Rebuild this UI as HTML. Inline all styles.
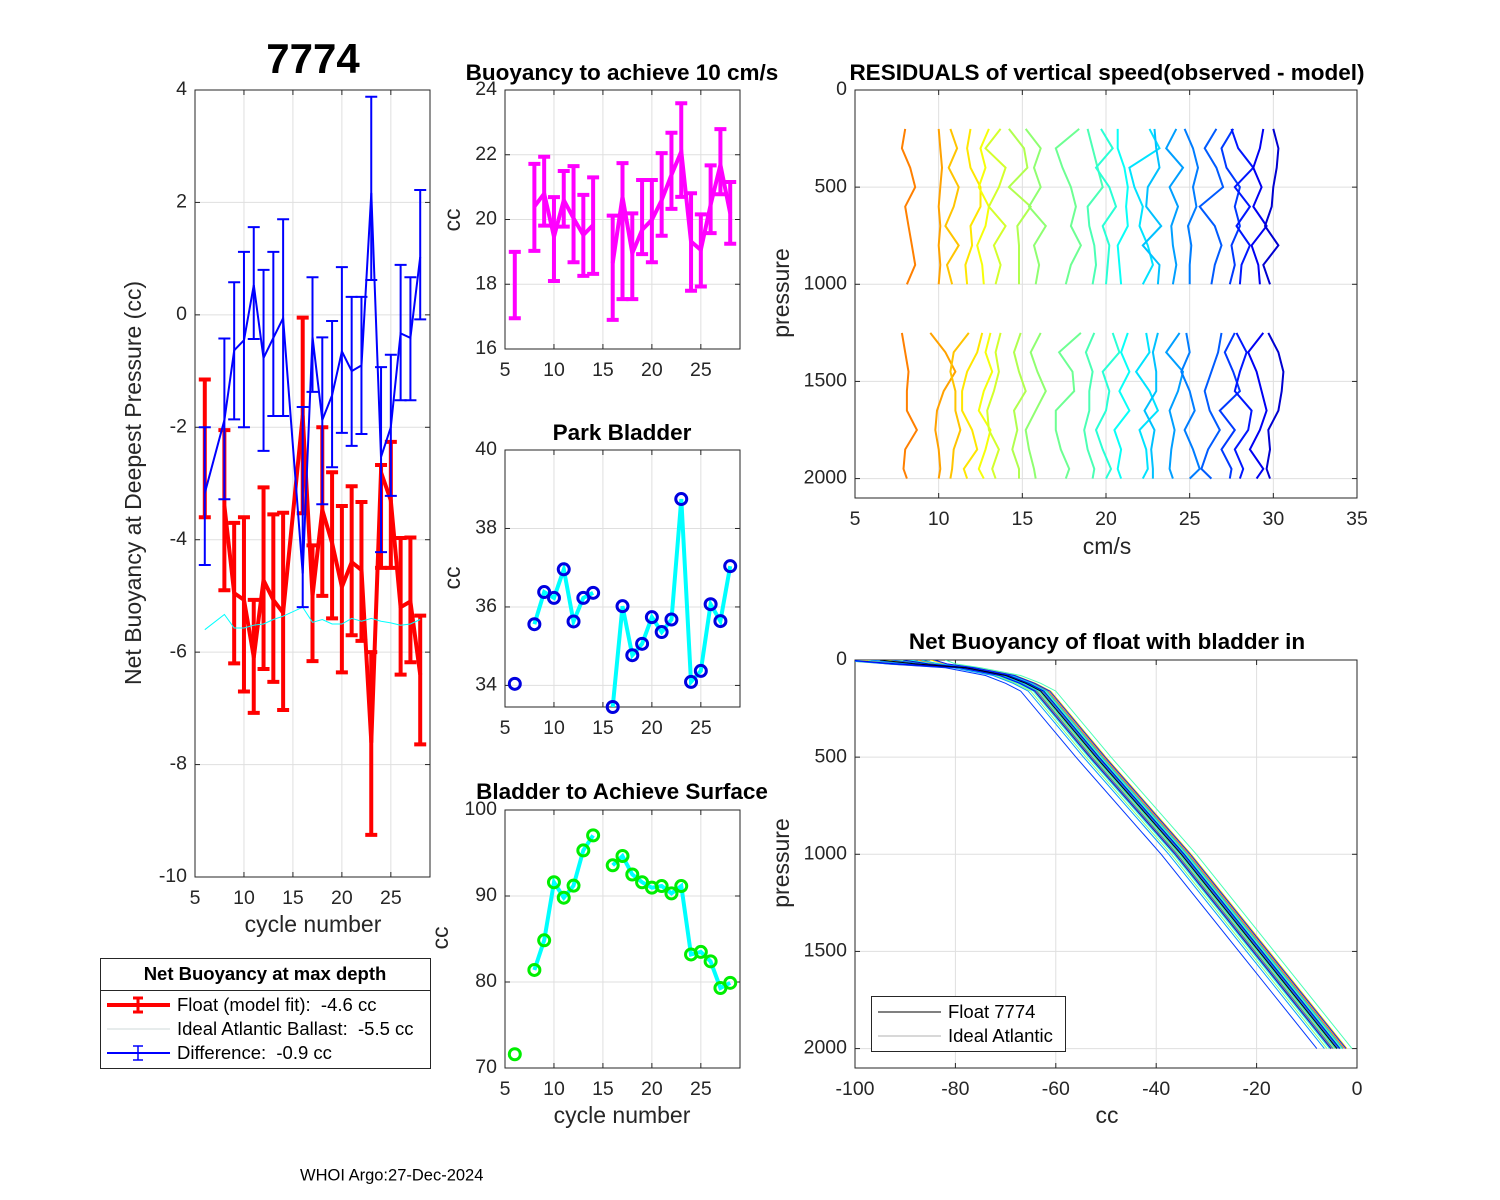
<!DOCTYPE html>
<html><head><meta charset="utf-8"><title>7774</title>
<style>
html,body{margin:0;padding:0;background:#fff;}
svg{display:block;font-family:"Liberation Sans",Arial,sans-serif;}
text{white-space:pre;}
</style></head>
<body>
<svg id="fig" width="1500" height="1200" viewBox="0 0 1500 1200" xmlns="http://www.w3.org/2000/svg"></svg>
<script>
// ---------- data ----------
const cycles = [6,8,9,10,11,12,13,14,16,17,18,19,20,21,22,23,24,25,26,27,28];
const floatVal = [-2.4,-3.4,-4.95,-5.07,-6.09,-4.72,-5.07,-5.3,-1.8,-5.0,-3.47,-4.06,-4.84,-4.4,-4.54,-7.6,-2.8,-3.3,-5.2,-5.1,-6.4];
const floatHi  = [-1.15,-2.05,-3.7,-3.6,-5.07,-3.07,-3.55,-3.52,-0.05,-4.1,-2.0,-2.8,-3.4,-3.05,-3.33,-6.0,-2.67,-2.26,-3.97,-3.96,-5.35];
const floatLo  = [-3.6,-4.9,-6.2,-6.7,-7.08,-6.3,-6.53,-7.03,-3.53,-6.16,-5.0,-5.4,-6.36,-5.7,-5.8,-9.25,-4.5,-4.5,-6.4,-6.18,-7.64];
const idealVal = [-5.6,-5.33,-5.57,-5.57,-5.52,-5.5,-5.42,-5.36,-5.2,-5.47,-5.42,-5.5,-5.5,-5.4,-5.45,-5.4,-5.45,-5.48,-5.52,-5.5,-5.42];
const diffVal = [-3.17,-1.87,-0.63,-0.45,0.53,-0.77,-0.41,-0.06,-4.6,-0.39,-1.87,-1.43,-0.65,-1.0,-0.9,2.17,-2.53,-2.0,-0.33,-0.41,1.03];
const diffHi  = [-2.0,-0.42,0.58,1.12,1.56,0.8,1.12,1.7,-1.64,0.67,-0.4,-0.11,0.85,0.32,0.32,3.88,-0.93,-0.71,0.89,0.67,2.22];
const diffLo  = [-4.45,-3.28,-1.86,-2.0,-0.43,-2.42,-1.8,-1.8,-5.2,-1.37,-3.37,-2.71,-2.1,-2.33,-2.12,0.62,-4.22,-3.22,-1.52,-1.52,-0.08];
const buoyVal = [17.98,20.4,20.8,19.47,20.6,20.04,19.52,19.83,18.65,20.7,18.96,19.68,19.99,20.6,21.38,22.1,19.32,19.06,20.45,21.69,20.19];
const buoyHi  = [19.0,21.72,21.94,20.69,21.5,21.65,20.76,21.3,20.12,21.74,20.19,21.22,21.22,22.05,22.68,23.59,20.81,20.16,21.67,22.79,21.16];
const buoyLo  = [16.95,19.03,19.81,18.1,19.78,18.68,18.26,18.32,16.9,17.54,17.54,18.93,18.68,19.5,20.33,20.7,17.8,17.93,19.58,20.78,19.25];
const parkVal = [34.04,35.56,36.38,36.23,36.96,35.63,36.23,36.36,33.45,36.02,34.77,35.06,35.74,35.36,35.68,38.75,34.09,34.37,36.07,35.64,37.04];
const surfVal = [71.6,81.4,84.85,91.6,89.8,91.2,95.3,97.05,93.57,94.65,92.5,91.6,90.97,91.16,90.3,91.16,83.2,83.5,82.4,79.3,79.9];
const resPresTop = [200,300,400,500,600,700,800,900,1000];
const resPresBot = [1250,1350,1450,1550,1650,1750,1850,1950,2000];
const resOffset = [8.1,10,10.9,11.7,12.7,13.4,14.8,15.8,17.6,19.2,20,20.9,22.2,22.8,24,25,26.3,27.4,28,29,29.8];
const resTop = [
[-0.1,-0.3,0.2,0.5,-0.1,0.1,0.3,0.5,0.0],
[0,0.1,0.2,0.1,0,0.1,0,0.1,0],
[-0.2,0.2,-0.3,0.3,0,-0.5,0.3,-0.4,-0.1],
[0.2,0,0.2,0.8,0.8,0.2,0.3,-0.1,0],
[0.3,-0.2,0.1,-0.3,0.3,0.1,-0.4,-0.1,0],
[0.3,-0.6,0.6,0.2,-0.4,0.6,-0.1,0.3,0],
[-0.6,0.3,0.5,-0.6,0.7,-0.1,0,0,0],
[-0.6,0.3,-0.1,0.3,-0.4,0.6,-0.1,0.2,0],
[0.8,-0.6,-0.2,0.3,0.6,0.3,0.9,0.3,0],
[-0.3,0,0.3,0.6,-0.3,-0.2,0.1,0.2,0],
[-0.3,0.4,-0.6,0.2,0.6,-0.2,0.2,0.1,0],
[-0.2,-0.2,0.2,0.4,0.3,0.4,-0.2,-0.1,0],
[0.4,1.0,-0.8,-0.5,0,-0.2,0.3,0.6,0],
[0.1,0.2,0.4,-0.3,-0.4,0.5,-0.6,0.4,0.3],
[0.2,-0.4,0.6,-0.2,0.3,-0.1,0,0.2,0],
[-0.3,0.2,0.5,0.2,0.4,-0.1,0.1,0,0],
[0.3,-0.4,0.3,0.7,-0.7,0.2,0.6,0.2,0],
[0.2,-0.5,-0.2,0.6,0.3,0.6,0.1,0.3,0],
[-0.5,-0.1,0.8,-0.3,0.6,-0.2,0.6,0.1,0],
[0.4,0.2,-0.2,0.3,-0.2,0.6,-0.3,0.1,0.2],
[0.2,0.5,0.4,0.2,0.1,-0.3,0.5,-0.4,0]];
const resBot = [
[-0.3,-0.1,0.1,0.0,0.0,0.6,-0.1,-0.2,0.0],
[-0.5,0.4,1.0,0.3,-0.1,-0.2,0.0,0.1,0.0],
[0.9,0.0,-0.2,0.1,0.1,0.4,0.0,-0.1,-0.2],
[0.9,0.6,0.0,-0.3,-0.3,0.3,0.6,-0.2,0.0],
[0.4,0.1,0.5,0.0,-0.3,0.4,0.1,-0.3,0.0],
[0.3,0.0,0.2,-0.1,-0.5,-0.4,0.2,-0.2,0.0],
[0.1,-0.3,0.0,0.4,-0.3,-0.1,-0.4,0.0,0.0],
[0.3,-0.3,0.1,0.6,0.0,-0.6,-0.4,-0.1,0.0],
[0.9,-0.4,0.4,0.5,-0.6,-0.6,-0.3,0.2,0.0],
[0.1,-0.4,0.0,-0.2,-0.2,-0.5,-0.3,0.1,0.0],
[0.4,0.8,-0.2,0.2,0.0,-0.6,-0.2,0.3,0.0],
[0.4,0.0,0.5,-0.1,0.5,-0.4,0.0,-0.2,0.0],
[0.2,0.4,-0.4,0.4,0.9,-0.2,0.2,0.3,0.0],
[0.3,0.0,0.2,0.2,-0.5,0.1,-0.1,0.0,0.0],
[0.4,-0.4,0.6,0.3,-0.2,0.1,-0.1,-0.2,0.0],
[-0.2,0.0,-0.5,0.0,0.3,-0.3,0.2,0.6,0.0],
[0.6,0.4,0.0,-0.4,-0.1,0.5,-0.2,-0.6,0.0],
[0.3,-0.3,0.2,0.6,-0.6,0.3,-0.5,0.1,0.0],
[-0.2,0.4,0.0,-0.3,0.7,0.5,-0.3,0.2,0.0],
[0.4,-0.5,0.0,0.3,0.6,0.2,-0.4,0.4,0.0],
[-0.1,0.5,0.8,0.7,0.5,-0.1,0.0,-0.2,0.0]];
const profPres = [0,20,40,80,120,160,500,1000,1500,2000];
const profCC   = [-95,-88,-78,-70,-66,-63,-52,-35,-19.5,-4];
const profShift = [1.5,-1,0.5,2,-0.5,0,1,-2,0.5,3,-1.5,0.8,-0.3,1.2,-2.5,-0.8,0.3,-4,1.8,-1.2,0.6];
const topSpread = [6,-3,2,8,-5,1,4,-7,3,10,-4,5,-2,7,-6,-1,2,-3,9,-5,4];
const idealShift = [-1.2,-0.6,0,0.6,1.2];
const xTicks5 = [5,10,15,20,25];

// ---------- helpers ----------
const NS = "http://www.w3.org/2000/svg";
const svg = document.getElementById('fig');
const TICK=19.5, LAB=23, TTL=22.5;
function el(tag, attrs, parent){ const e=document.createElementNS(NS,tag); for(const k in attrs) e.setAttribute(k,attrs[k]); (parent||svg).appendChild(e); return e; }
function txt(x,y,s,size,opts,parent){ opts=opts||{}; const t=el('text',{x:x,y:y,'font-size':size,fill:opts.fill||'#262626','text-anchor':opts.anchor||'middle','font-weight':opts.bold?'bold':'normal','dominant-baseline':opts.base||'middle'},parent); if(opts.rot) t.setAttribute('transform','rotate(-90 '+x+' '+y+')'); t.textContent=s; return t; }
function lin(d0,d1,p0,p1){ return v=>p0+(v-d0)*(p1-p0)/(d1-d0); }
function jet(t){ const r=Math.min(1,Math.max(0,1.5-Math.abs(4*t-3))); const g=Math.min(1,Math.max(0,1.5-Math.abs(4*t-2))); const b=Math.min(1,Math.max(0,1.5-Math.abs(4*t-1))); return 'rgb('+Math.round(r*255)+','+Math.round(g*255)+','+Math.round(b*255)+')'; }

function axes(name,x0,y0,x1,y1,xl,yl,xt,yt,rev){
  const g=el('g',{});
  
  
  const sx=lin(xl[0],xl[1],x0,x1);
  const sy=rev?lin(yl[0],yl[1],y0,y1):lin(yl[0],yl[1],y1,y0);
  xt.forEach(v=>{ const X=sx(v); el('line',{x1:X,y1:y0,x2:X,y2:y1,stroke:'#dfdfdf','stroke-width':1},g);
    el('line',{x1:X,y1:y1,x2:X,y2:y1-5,stroke:'#262626'},g); el('line',{x1:X,y1:y0,x2:X,y2:y0+5,stroke:'#262626'},g);
    const t=txt(X,y1+22,String(v),TICK,{},g);
    
     });
  yt.forEach(v=>{ const Y=sy(v); el('line',{x1:x0,y1:Y,x2:x1,y2:Y,stroke:'#dfdfdf','stroke-width':1},g);
    el('line',{x1:x0,y1:Y,x2:x0+5,y2:Y,stroke:'#262626'},g); el('line',{x1:x1,y1:Y,x2:x1-5,y2:Y,stroke:'#262626'},g);
    const t=txt(x0-8,Y,String(v),TICK,{anchor:'end'},g);
    
     });
  el('rect',{x:x0,y:y0,width:x1-x0,height:y1-y0,fill:'none',stroke:'#262626','stroke-width':1},g);
  const clipId='clip-'+name; const cp=el('clipPath',{id:clipId},g); el('rect',{x:x0,y:y0,width:x1-x0,height:y1-y0},cp);
  const plot=el('g',{'clip-path':'url(#'+clipId+')'},g);
  
  
  return {sx,sy,g,plot};
}
function path(pts){ return pts.map((p,i)=>(i?'L':'M')+p[0].toFixed(1)+' '+p[1].toFixed(1)).join(' '); }
function segmented(xs,ys,sx,sy,breakGaps){ let d=''; for(let i=0;i<xs.length;i++){ const nb=i===0||(breakGaps&&xs[i]-xs[i-1]>1); d+=(nb?'M':'L')+sx(xs[i]).toFixed(1)+' '+sy(ys[i]).toFixed(1)+' '; } return d; }
function errbars(ax,xs,hi,lo,color,w,cap,name){
  for(let i=0;i<xs.length;i++){ const X=ax.sx(xs[i]),Y1=ax.sy(hi[i]),Y2=ax.sy(lo[i]);
    const e=el('path',{d:'M'+X+' '+Y1+'L'+X+' '+Y2+'M'+(X-cap)+' '+Y1+'L'+(X+cap)+' '+Y1+'M'+(X-cap)+' '+Y2+'L'+(X+cap)+' '+Y2,stroke:color,'stroke-width':w,fill:'none'},ax.plot);
    
     }
}

// ---------- panel A ----------
const A=axes('net-buoyancy-axes',195,90,430,877,[5,29],[-10,4],xTicks5,[-10,-8,-6,-4,-2,0,2,4],false);
errbars(A,cycles,floatHi,floatLo,'#ff0000',4,6,'float-error-bar');
let p=el('path',{d:segmented(cycles.slice(1),floatVal.slice(1),A.sx,A.sy,false),stroke:'#ff0000','stroke-width':4,fill:'none','stroke-linejoin':'round'},A.plot);


p=el('path',{d:segmented(cycles,idealVal,A.sx,A.sy,false),stroke:'#00ffff','stroke-width':1,fill:'none'},A.plot);


errbars(A,cycles,diffHi,diffLo,'#0000ff',2,6,'difference-error-bar');
p=el('path',{d:segmented(cycles,diffVal,A.sx,A.sy,false),stroke:'#0000ff','stroke-width':2,fill:'none'},A.plot);


let t=txt(313,62,'7774',42,{bold:true,fill:'#000'});


t=txt(313,926,'cycle number',LAB,{});


t=txt(135,483,'Net Buoyancy at Deepest Pressure (cc)',LAB,{rot:true});



const lg=el('g',{});


el('rect',{x:100.5,y:958.5,width:330,height:110,fill:'#fff',stroke:'#262626'},lg);
el('line',{x1:100.5,y1:990.5,x2:430.5,y2:990.5,stroke:'#262626'},lg);
t=txt(265,975,'Net Buoyancy at max depth',18.5,{bold:true,fill:'#000'},lg);


const legItems=[['Float (model fit):  -4.6 cc','#ff0000',4,true],['Ideal Atlantic Ballast:  -5.5 cc','#cfd8d8',1,false],['Difference:  -0.9 cc','#0000ff',2,true]];
legItems.forEach((it,i)=>{ const Y=1005+i*24; const e=el('g',{},lg);
  
  
  el('line',{x1:107,y1:Y,x2:170,y2:Y,stroke:it[1],'stroke-width':it[2]},e);
  if(it[3]) el('path',{d:'M138 '+(Y-7)+'L138 '+(Y+7)+'M133 '+(Y-7)+'L143 '+(Y-7)+'M133 '+(Y+7)+'L143 '+(Y+7),stroke:it[1],'stroke-width':it[2]>2?3:1.5},e);
  txt(177,Y+1,it[0],18.5,{anchor:'start',fill:'#000'},e); });

// ---------- panel B ----------
const B=axes('buoyancy-10cms-axes',505,90,740,349,[5,29],[16,24],xTicks5,[16,18,20,22,24],false);
errbars(B,cycles,buoyHi,buoyLo,'#ff00ff',4,6,'buoyancy-error-bar');
p=el('path',{d:segmented(cycles,buoyVal,B.sx,B.sy,true),stroke:'#ff00ff','stroke-width':4,fill:'none'},B.plot);


t=txt(622,74,'Buoyancy to achieve 10 cm/s',TTL,{bold:true,fill:'#000'});


t=txt(454,220,'cc',LAB,{rot:true});



// ---------- panel C ----------
const C=axes('park-bladder-axes',505,450,740,707,[5,29],[33.45,40],xTicks5,[34,36,38,40],false);
p=el('path',{d:segmented(cycles,parkVal,C.sx,C.sy,true),stroke:'#00ffff','stroke-width':4,fill:'none'},C.plot);


cycles.forEach((c,i)=>{ const m=el('circle',{cx:C.sx(c),cy:C.sy(parkVal[i]),r:5.5,fill:'none',stroke:'#0000e0','stroke-width':3},C.g);
  
   });
t=txt(622,434,'Park Bladder',TTL,{bold:true,fill:'#000'});


t=txt(454,578,'cc',LAB,{rot:true});



// ---------- panel D ----------
const D=axes('surface-bladder-axes',505,810,740,1068,[5,29],[70,100],xTicks5,[70,80,90,100],false);
p=el('path',{d:segmented(cycles,surfVal,D.sx,D.sy,true),stroke:'#00ffff','stroke-width':4,fill:'none'},D.plot);


cycles.forEach((c,i)=>{ const m=el('circle',{cx:D.sx(c),cy:D.sy(surfVal[i]),r:5.5,fill:'none',stroke:'#00ee00','stroke-width':3},D.g);
  
   });
t=txt(622,793,'Bladder to Achieve Surface',TTL,{bold:true,fill:'#000'});


t=txt(622,1117,'cycle number',LAB,{});


t=txt(442,938,'cc',LAB,{rot:true});



// ---------- panel E ----------
const E=axes('residuals-axes',855,90,1357,498,[5,35],[0,2100],[5,10,15,20,25,30,35],[0,500,1000,1500,2000],true);
resOffset.forEach((off,i)=>{ const col=jet(0.75-0.67*i/(resOffset.length-1));
  [[resPresTop,resTop[i]],[resPresBot,resBot[i]]].forEach(grp=>{
    const pts=grp[0].map((pr,k)=>[E.sx(off+grp[1][k]),E.sy(pr)]);
    const l=el('path',{d:path(pts),stroke:col,'stroke-width':2,fill:'none'},E.plot);
    
     }); });
t=txt(1107,74,'RESIDUALS of vertical speed(observed - model)',TTL,{bold:true,fill:'#000'});


t=txt(1107,548,'cm/s',LAB,{});


t=txt(783,293,'pressure',LAB,{rot:true});



// ---------- panel F ----------
const F=axes('net-buoyancy-profile-axes',855,660,1357,1068,[-100,0],[0,2100],[-100,-80,-60,-40,-20,0],[0,500,1000,1500,2000],true);
idealShift.forEach((s,j)=>{ const pts=profPres.map((pr,k)=>[F.sx(profCC[k]+s*(k<2?4:1)),F.sy(pr)]);
  const l=el('path',{d:path(pts),stroke:'#b8b8b8','stroke-width':2,fill:'none'},F.plot);
  
   });
profShift.forEach((s,i)=>{ const col=jet(0.75-0.67*i/(profShift.length-1));
  const pts=profPres.map((pr,k)=>[F.sx(profCC[k]+s+(k===0?topSpread[i]:k===1?topSpread[i]*0.5:0)),F.sy(pr)]);
  const l=el('path',{d:path(pts),stroke:col,'stroke-width':1,fill:'none'},F.plot);
  
   });
p=el('path',{d:path(profPres.map((pr,k)=>[F.sx(profCC[k]),F.sy(pr)])),stroke:'#000','stroke-width':1,fill:'none'},F.plot);


t=txt(1107,643,'Net Buoyancy of float with bladder in',TTL,{bold:true,fill:'#000'});


t=txt(1107,1117,'cc',LAB,{});


t=txt(783,863,'pressure',LAB,{rot:true});


const lg2=el('g',{});


el('rect',{x:871.5,y:996.5,width:194,height:55,fill:'#fff',stroke:'#262626'},lg2);
[['Float 7774','#000'],['Ideal Atlantic','#b0b0b0']].forEach((it,i)=>{ const Y=1012+i*24; const e=el('g',{},lg2);
  
  
  el('line',{x1:878,y1:Y,x2:941,y2:Y,stroke:it[1],'stroke-width':1},e);
  txt(948,Y+1,it[0],18.5,{anchor:'start',fill:'#000'},e); });

t=txt(300,1176,'WHOI Argo:27-Dec-2024',16.5,{anchor:'start',fill:'#000'});


</script>
</body></html>
